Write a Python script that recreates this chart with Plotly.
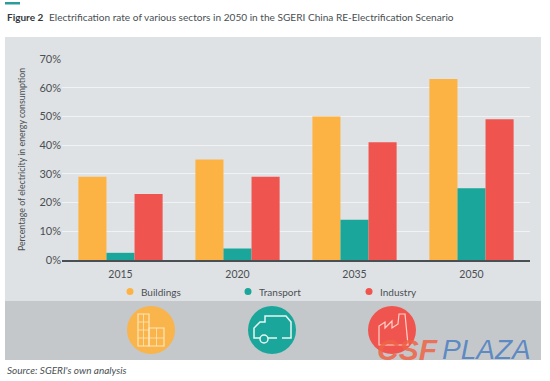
import plotly.graph_objects as go

categories = ["2015", "2020", "2035", "2050"]
buildings = [29, 35, 50, 63]
transport = [2.5, 4, 14, 25]
industry = [23, 29, 41, 49]
tick_values = [0, 10, 20, 30, 40, 50, 60, 70]
tick_labels = ["0%", "10%", "20%", "30%", "40%", "50%", "60%", "70%"]

W, H = 550, 381
L, R, T, B = 62, 20, 59, 121
FONT = "Lato"
TEXT = "#4a4f54"
ORANGE, TEAL, RED = "#FDB344", "#1AA69A", "#F0544F"

def px(x):
    return (x - L) / (W - L - R)

def py(y):
    return (H - B - y) / (H - T - B)

def rect(x0, y0, x1, y1, color):
    return dict(type="rect", xref="paper", yref="paper", x0=px(x0), x1=px(x1), y0=py(y0), y1=py(y1),
                fillcolor=color, line_width=0, layer="below")

def circle(cx, cy, r, color):
    return dict(type="circle", xref="paper", yref="paper", x0=px(cx - r), x1=px(cx + r), y0=py(cy - r), y1=py(cy + r),
                fillcolor=color, line_width=0, layer="below")

def poly(points, closed=False, color="#FFE6B8", width=1.2):
    d = "M " + " L ".join(f"{px(a):.5f},{py(b):.5f}" for a, b in points) + (" Z" if closed else "")
    return dict(type="path", xref="paper", yref="paper", path=d, line=dict(color=color, width=width), layer="above")

def label(text, x, y, size, color=TEXT, family=FONT, anchor="left"):
    return dict(text=text, x=px(x), y=py(y), xref="paper", yref="paper", xanchor=anchor, yanchor="middle",
                showarrow=False, font=dict(family=family, size=size, color=color))

fig = go.Figure()
for name, vals, color in [("Buildings", buildings, ORANGE), ("Transport", transport, TEAL), ("Industry", industry, RED)]:
    fig.add_bar(x=categories, y=vals, name=name, marker_color=color, marker_line_width=0, showlegend=False)

shapes = [
    rect(5, 37, 541, 301, "#DFE2E4"),
    rect(5, 301, 541, 360, "#C5C8CA"),
    rect(5, 2, 20, 4.5, "#2A9D9A"),
    circle(130, 291.5, 3.5, ORANGE),
    circle(248, 291.5, 3.5, TEAL),
    circle(369, 291.5, 3.5, RED),
    circle(151, 330, 24, "#F9B44C"),
    circle(272, 330, 24, "#1AA69A"),
    circle(392, 330, 24, "#F0544F"),
    # buildings icon
    poly([(138, 346), (138, 314), (149, 314), (149, 346)], True, "#FFE6B8"),
    poly([(149, 328), (164, 328), (164, 346), (149, 346)], True, "#FFE6B8"),
    poly([(138, 322), (149, 322)], False, "#FFE6B8", 0.8),
    poly([(138, 330), (149, 330)], False, "#FFE6B8", 0.8),
    poly([(138, 338), (164, 338)], False, "#FFE6B8", 0.8),
    poly([(143.5, 314), (143.5, 346)], False, "#FFE6B8", 0.8),
    poly([(156.5, 328), (156.5, 346)], False, "#FFE6B8", 0.8),
    # truck icon
    poly([(260, 338), (254, 338), (254, 328), (260, 322), (265, 322), (265, 316), (286, 316), (291, 322), (291, 338), (282, 338)], False, "#E8F6F3", 1.5),
    poly([(268, 338), (277, 338)], False, "#E8F6F3", 1.5),
    dict(type="circle", xref="paper", yref="paper", x0=px(260), x1=px(268), y0=py(343), y1=py(335),
         line=dict(color="#E8F6F3", width=1.5), layer="above"),
    # factory icon
    poly([(379, 336), (379, 326), (385, 322), (385, 328), (392, 321), (392, 328), (398, 324), (399, 314), (405, 314), (408, 345), (379, 345), (379, 336)], False, "#FFD2C8", 1.2),
]

annotations = [
    label("<b>Figure 2</b>", 5, 17, 10, "#33383c"),
    label("Electrification rate of various sectors in 2050 in the SGERI China RE-Electrification Scenario", 47, 17, 10.1),
    label("<i>Source: SGERI's own analysis</i>", 5, 370, 10),
    label("Buildings", 139, 291.5, 10),
    label("Transport", 257, 291.5, 10),
    label("Industry", 378, 291.5, 10),
    label("<b><i>CSF</i></b>", 440, 349, 30, "rgba(238,100,70,0.85)", "Liberation Sans", "right"),
    label("<i>PLAZA</i>", 440, 349, 28, "rgba(80,130,195,0.9)", "Liberation Sans"),
]

fig.update_layout(
    width=W, height=H, margin=dict(l=L, r=R, t=T, b=B, pad=0),
    paper_bgcolor="white", plot_bgcolor="rgba(0,0,0,0)",
    barmode="group", bargap=0.28, bargroupgap=0, showlegend=False,
    font=dict(family=FONT, size=11, color=TEXT),
    shapes=shapes, annotations=annotations,
    xaxis=dict(type="category", showgrid=False, showline=True, linecolor="#4a4f54", linewidth=1.5,
               ticks="", tickfont=dict(size=10.5), zeroline=False, ticklabelstandoff=4),
    yaxis=dict(range=[0, 70], tickvals=tick_values, ticktext=tick_labels, showgrid=True, gridcolor="#F0F2F3",
               gridwidth=1, zeroline=False, showline=False, ticks="", tickfont=dict(size=11),
               title=dict(text="Percentage of electricity in energy consumption", font=dict(size=8.8), standoff=12)),
)
fig.write_html("out.html", post_script="document.body.style.margin='0';", config={"displayModeBar": False})
